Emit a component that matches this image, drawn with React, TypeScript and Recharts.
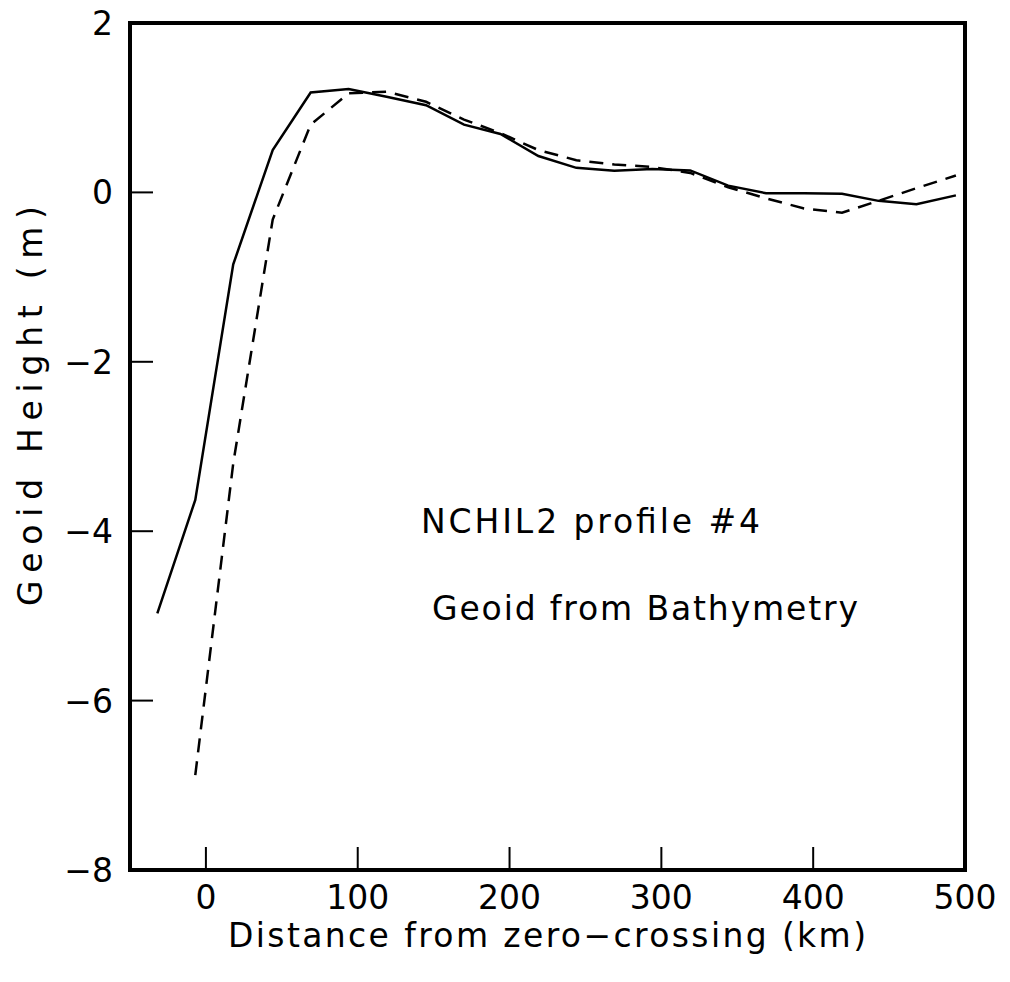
import React from "react";
import {LineChart, Line, XAxis, YAxis, ReferenceArea, Customized} from "recharts";

// distance from the zero-crossing, km
const distanceKm = [-32, -7, 18, 44, 69, 94, 119, 145, 170, 194, 219, 244, 269, 294, 319, 344, 369, 394, 419, 443, 468, 494];
// observed geoid (solid)
const geoidObserved = [-4.97, -3.63, -0.85, 0.5, 1.18, 1.22, 1.13, 1.03, 0.8, 0.69, 0.43, 0.29, 0.255, 0.275, 0.26, 0.08, -0.01, -0.01, -0.015, -0.1, -0.14, -0.035];
// geoid computed from bathymetry (dashed)
const geoidBathymetry = [null, -6.88, -3.2, -0.32, 0.8, 1.17, 1.19, 1.07, 0.86, 0.7, 0.5, 0.38, 0.33, 0.3, 0.23, 0.06, -0.07, -0.19, -0.24, -0.1, 0.05, 0.2];

const xTicks = [0, 100, 200, 300, 400, 500];
const yTicks = [-8, -6, -4, -2, 0, 2];

const FONT = "'DejaVu Sans', sans-serif";
const FS = 33;

const chartData = distanceKm.map((km, i) => ({
    km,
    observed: geoidObserved[i],
    bathy: geoidBathymetry[i],
}));

const fmt = (v: number) => (v < 0 ? "\u2212" + Math.abs(v) : String(v));

// ticks point inward, so the tick line is drawn here together with the label
const XTick = (props: any) => {
    const {x, y, payload} = props;
    const axisY = y - 39;
    return (
        <g>
            <line x1={x} x2={x} y1={axisY} y2={axisY - 23} stroke="#000" strokeWidth={2} />
            <text x={x} y={y} textAnchor="middle" fontFamily={FONT} fontSize={FS} fill="#000">
                {fmt(payload.value)}
            </text>
        </g>
    );
};

const YTick = (props: any) => {
    const {x, y, payload} = props;
    const axisX = x + 17;
    return (
        <g>
            <line x1={axisX} x2={axisX + 23} y1={y} y2={y} stroke="#000" strokeWidth={2} />
            <text x={x} y={y + 12} textAnchor="end" fontFamily={FONT} fontSize={FS} fill="#000">
                {fmt(payload.value)}
            </text>
        </g>
    );
};

const Texts = () => (
    <g fontFamily={FONT} fontSize={FS} fill="#000">
        <text x={228} y={947} textLength={638} lengthAdjust="spacing">
            Distance from zero{"\u2212"}crossing (km)
        </text>
        <text
            x={42}
            y={406}
            textAnchor="middle"
            transform="rotate(-90, 42, 406)"
            textLength={400}
            lengthAdjust="spacing"
        >
            Geoid Height (m)
        </text>
        <text x={421} y={533} textLength={339} lengthAdjust="spacing">
            NCHIL2 profile #4
        </text>
        <text x={432} y={620} textLength={426} lengthAdjust="spacing">
            Geoid from Bathymetry
        </text>
    </g>
);

export default function App() {
    return (
        <div style={{marginTop: -8, marginLeft: -8}}>
            <LineChart
                width={1010}
                height={982}
                data={chartData}
                margin={{top: 23, right: 45, left: 70, bottom: 52}}
            >
                <XAxis
                    dataKey="km"
                    type="number"
                    domain={[-50, 500]}
                    ticks={xTicks}
                    allowDataOverflow
                    axisLine={false}
                    tickLine={false}
                    tickSize={0}
                    tickMargin={39}
                    height={60}
                    tick={<XTick />}
                />
                <YAxis
                    type="number"
                    domain={[-8, 2]}
                    ticks={yTicks}
                    allowDataOverflow
                    axisLine={false}
                    tickLine={false}
                    tickSize={0}
                    tickMargin={17}
                    width={60}
                    tick={<YTick />}
                />
                <ReferenceArea
                    x1={-50}
                    x2={500}
                    y1={-8}
                    y2={2}
                    fill="none"
                    stroke="#000"
                    strokeWidth={4}
                    ifOverflow="visible"
                />
                <Line
                    dataKey="observed"
                    stroke="#000"
                    strokeWidth={2.5}
                    dot={false}
                    type="linear"
                    isAnimationActive={false}
                />
                <Line
                    dataKey="bathy"
                    stroke="#000"
                    strokeWidth={2.5}
                    strokeDasharray="14 9"
                    dot={false}
                    type="linear"
                    isAnimationActive={false}
                />
                <Customized component={Texts} />
            </LineChart>
        </div>
    );
}
